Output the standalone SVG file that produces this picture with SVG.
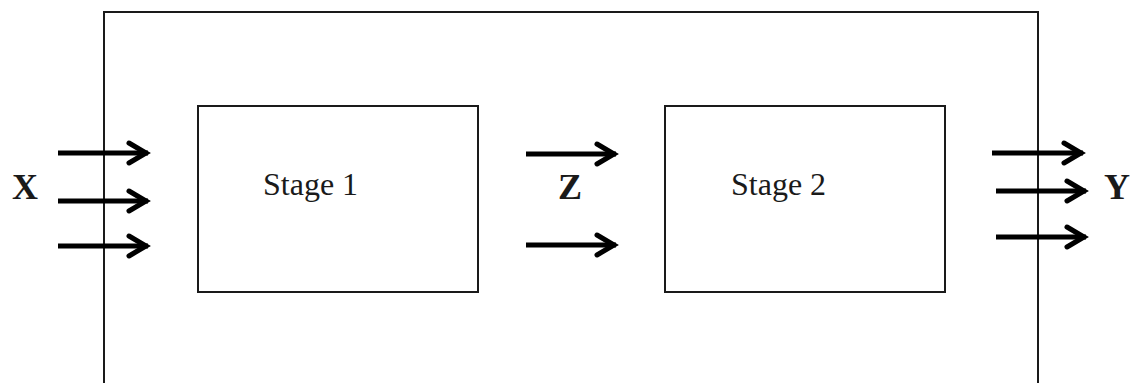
<svg xmlns="http://www.w3.org/2000/svg" width="1138" height="383" viewBox="0 0 1138 383">
<style>
.frame{fill:none;stroke:#1a1a1a;stroke-width:2}
.box{fill:#fff;stroke:#1a1a1a;stroke-width:2}
.arr{fill:none;stroke:#000;stroke-width:5;marker-end:url(#head)}
.lbl{font-family:"Liberation Serif",serif;font-size:32px;fill:#1a1a1a}
.var{font-family:"Liberation Serif",serif;font-size:36px;font-weight:bold;fill:#1a1a1a}
</style>
<defs>
<marker id="head" markerUnits="userSpaceOnUse" markerWidth="30" markerHeight="30" viewBox="-25 -15 30 30" refX="0" refY="0" orient="auto">
<path d="M-19,-10 L-2,0 L-19,10" fill="none" stroke="#000" stroke-width="5" stroke-linecap="round" stroke-linejoin="miter"/>
</marker>
</defs>
<rect width="1138" height="383" fill="#fff"/>
<g id="system">
<path class="frame" d="M104,384 L104,12 L1038,12 L1038,384"/>
</g>
<g id="stage1">
<rect class="box" x="198" y="106" width="280" height="186"/>
<text class="lbl" x="263" y="195">Stage 1</text>
</g>
<g id="stage2">
<rect class="box" x="665" y="106" width="280" height="186"/>
<text class="lbl" x="731" y="195">Stage 2</text>
</g>
<g id="labels">
<text class="var" x="12" y="199">X</text>
<text class="var" x="558" y="199">Z</text>
<text class="var" x="1104" y="199">Y</text>
</g>
<g id="connectors">
<line class="arr" x1="58" y1="153" x2="148" y2="153"/>
<line class="arr" x1="58" y1="201" x2="148" y2="201"/>
<line class="arr" x1="58" y1="246" x2="148" y2="246"/>
<line class="arr" x1="526" y1="154" x2="616" y2="154"/>
<line class="arr" x1="526" y1="245" x2="616" y2="245"/>
<line class="arr" x1="992" y1="153" x2="1083" y2="153"/>
<line class="arr" x1="996" y1="191" x2="1086" y2="191"/>
<line class="arr" x1="996" y1="237" x2="1086" y2="237"/>
</g>
</svg>
